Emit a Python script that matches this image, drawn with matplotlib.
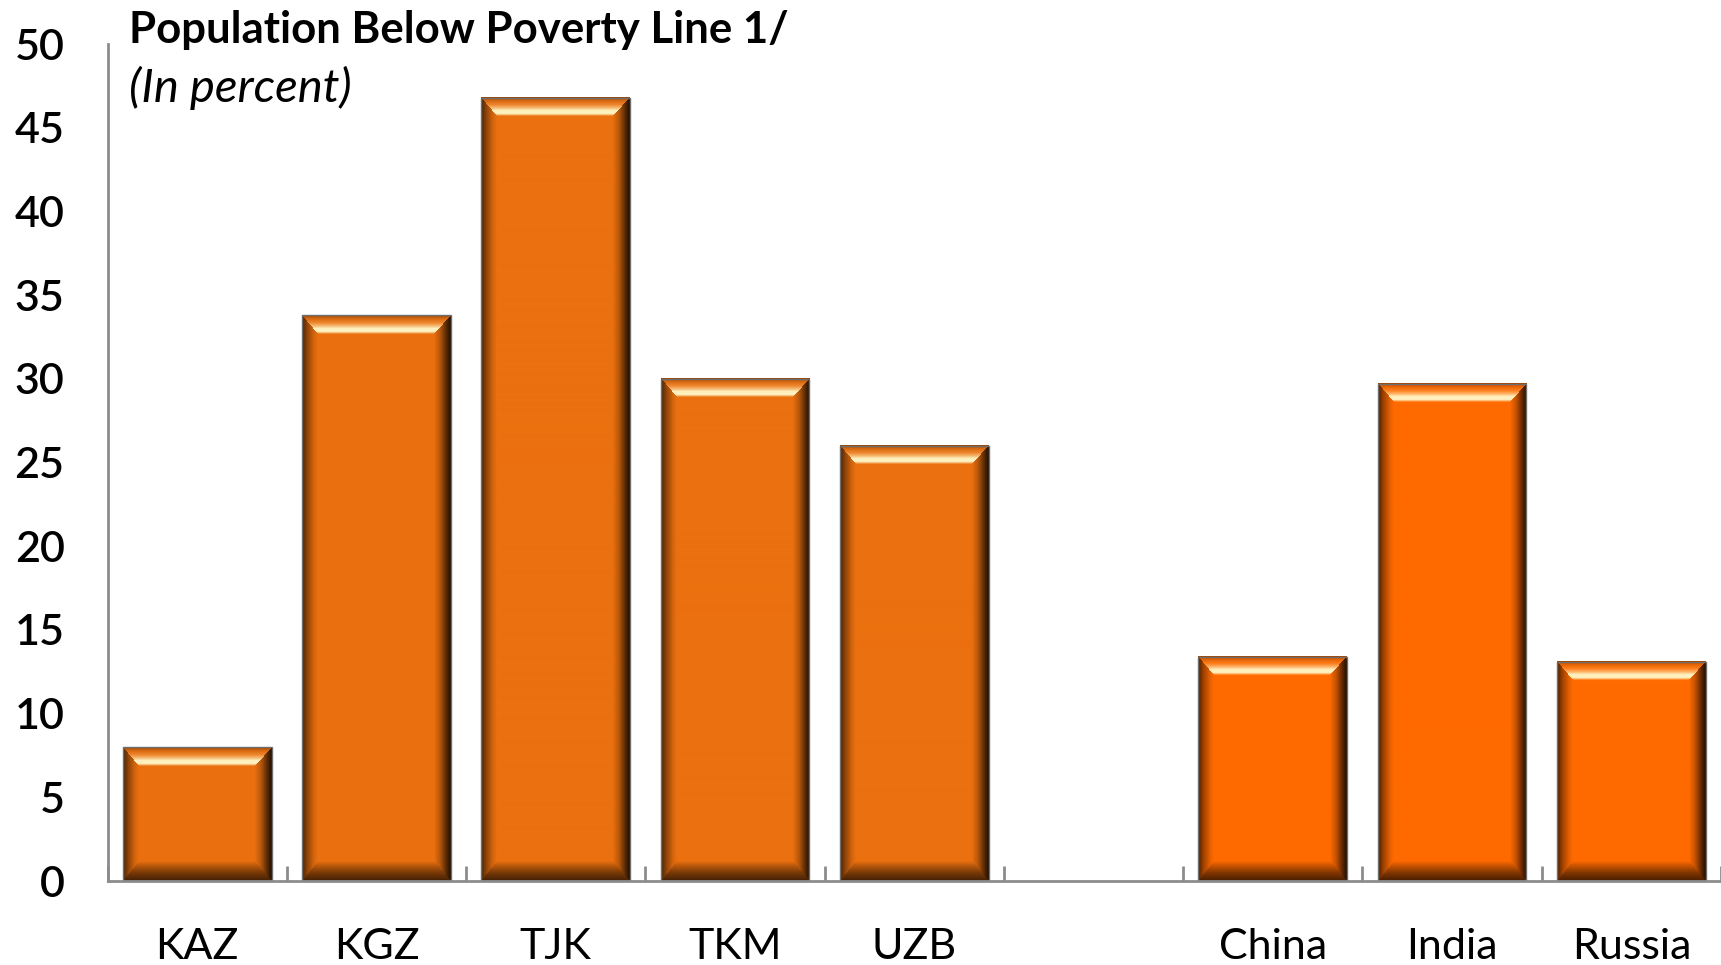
import numpy as np
import matplotlib
matplotlib.use("Agg")
import matplotlib.pyplot as plt

plt.rcParams["font.family"] = ["Lato", "DejaVu Sans"]

# Central Asia
ca_labels = ["KAZ", "KGZ", "TJK", "TKM", "UZB"]
ca_values = [8.0, 33.8, 46.8, 30.0, 26.0]
# comparators
cmp_labels = ["China", "India", "Russia"]
cmp_values = [13.4, 29.7, 13.1]

y_ticks = [0, 5, 10, 15, 20, 25, 30, 35, 40, 45, 50]

CA_COLOR = "#EB700F"
CMP_COLOR = "#FF6A00"
AXIS_GRAY = "#8C8C8C"

labels = ca_labels + [""] + cmp_labels
values = ca_values + [np.nan] + cmp_values
colors = [CA_COLOR] * len(ca_labels) + ["none"] + [CMP_COLOR] * len(cmp_labels)
x = np.arange(len(labels))


def bevel_image(w, h, base, dt=19, db=20, dl=16, dr=17):
    """RGBA array for a bevelled bar of w x h pixels."""
    base = np.array(matplotlib.colors.to_rgb(base))
    light = np.array([1.0, 0.98, 0.80])
    yy, xx = np.mgrid[0:h, 0:w] + 0.5
    s_top = yy / dt
    s_bot = (h - yy) / db
    s_left = xx / dl
    s_right = (w - xx) / dr
    stack = np.stack([s_top, s_bot, s_left, s_right])
    side = np.argmin(stack, axis=0)
    s = np.clip(np.min(stack, axis=0), 0, 1)

    img = np.tile(base, (h, w, 1))

    # top bevel: darker rim, then a bright highlight band near the inner edge
    sp = [0.0, 0.15, 0.4, 0.58, 0.7, 0.86, 0.95, 1.0]
    dk = [0.6, 0.88, 1.0, 1.0, 1.0, 1.0, 1.0, 1.0]
    hl = [0.0, 0.0, 0.15, 0.55, 0.92, 0.95, 0.4, 0.0]
    m = side == 0
    k = np.interp(s[m], sp, dk)[:, None]
    a = np.interp(s[m], sp, hl)[:, None]
    img[m] = (base * k) * (1 - a) + light * a

    # bottom, left and right bevels shade towards dark brown
    for idx, sp, dk in [
        (1, [0.0, 0.4, 0.8, 1.0], [0.28, 0.5, 0.82, 1.0]),
        (2, [0.0, 0.35, 0.75, 1.0], [0.3, 0.62, 0.9, 1.0]),
        (3, [0.0, 0.3, 0.65, 1.0], [0.12, 0.4, 0.78, 1.0]),
    ]:
        m = side == idx
        img[m] = base * np.interp(s[m], sp, dk)[:, None]

    rgba = np.concatenate([img, np.ones((h, w, 1))], axis=2)
    return np.clip(rgba, 0, 1)


fig = plt.figure(figsize=(17.21, 9.65), dpi=100)
ax = fig.add_axes([0.0625, 0.0870, 0.9375, 0.8674])

bars = ax.bar(x, values, width=0.83, color=colors, edgecolor="none", zorder=2)
ax.set_xlim(-0.5, len(labels) - 0.5)
ax.set_ylim(0, 50)

# bevel shading laid over each bar, sized in screen pixels
for bar, c in zip(bars, colors):
    hgt = bar.get_height()
    if c == "none" or not np.isfinite(hgt):
        continue
    x0, w = bar.get_x(), bar.get_width()
    (px0, py0), (px1, py1) = ax.transData.transform([(x0, 0), (x0 + w, hgt)])
    img = bevel_image(int(round(px1 - px0)), int(round(py1 - py0)), c)
    ax.imshow(img, extent=(x0, x0 + w, 0, hgt), aspect="auto",
              interpolation="bilinear", zorder=3)
ax.bar(x, values, width=0.83, fill=False, edgecolor="#6E6E6E",
       linewidth=1, zorder=4)
ax.set_xlim(-0.5, len(labels) - 0.5)
ax.set_ylim(0, 50)

for side in ["top", "right"]:
    ax.spines[side].set_visible(False)
for side in ["left", "bottom"]:
    ax.spines[side].set_color(AXIS_GRAY)
    ax.spines[side].set_linewidth(2)
    ax.spines[side].set_zorder(5)

# category separators as inward ticks, names centred on the slots
ax.set_xticks(np.arange(-0.5, len(labels)), [""] * (len(labels) + 1))
ax.set_xticks(x, labels, minor=True)
ax.tick_params(axis="x", which="major", direction="in", length=11,
               width=2, color=AXIS_GRAY)
ax.tick_params(axis="x", which="minor", length=0, pad=34, labelsize=31)

ax.set_yticks(y_ticks)
ax.tick_params(axis="y", length=0, pad=31, labelsize=31)
for lbl in ax.get_yticklabels():
    lbl.set_horizontalalignment("right")
    lbl.set_fontweight("semibold")

fig.text(0.0752, 0.9690, "Population Below Poverty Line 1/", fontsize=31.5,
         fontweight="bold", va="center", ha="left")
fig.text(0.0752, 0.9090, "(In percent)", fontsize=34, fontstyle="italic",
         va="center", ha="left")

fig.savefig("out.png", dpi=100)
